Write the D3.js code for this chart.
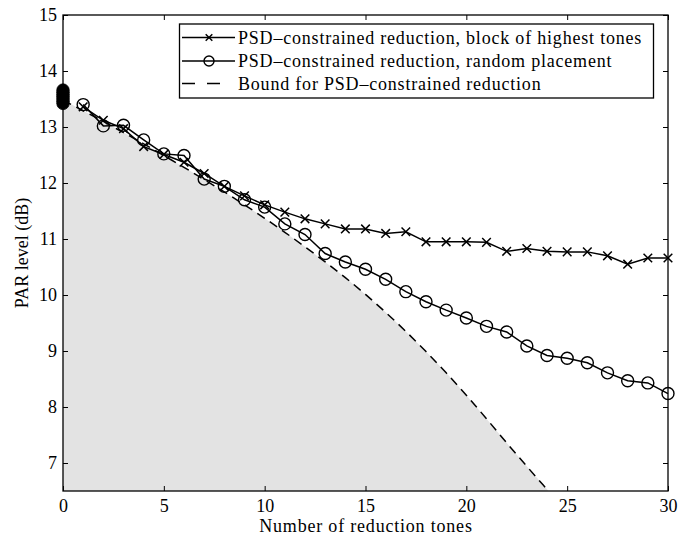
<!DOCTYPE html>
<html>
<head>
<meta charset="utf-8">
<script src="https://cdn.jsdelivr.net/npm/d3@7"></script>
<style>
  body { margin: 0; background: #fff; }
  svg { display: block; }
  text { font-family: "Liberation Serif", "DejaVu Serif", serif; fill: #000; }
</style>
</head>
<body>
<svg id="chart"></svg>
<script>
// number of reduction tones
var tones = [1,2,3,4,5,6,7,8,9,10,11,12,13,14,15,16,17,18,19,20,21,22,23,24,25,26,27,28,29,30];
// PSD-constrained reduction, block of highest tones (x markers)
var blockPar = [13.36,13.12,12.97,12.65,12.51,12.37,12.17,11.94,11.77,11.61,11.48,11.36,11.27,11.18,11.18,11.10,11.13,10.95,10.95,10.95,10.94,10.78,10.83,10.78,10.77,10.77,10.70,10.55,10.66,10.66];
// PSD-constrained reduction, random placement (o markers)
var randomPar = [13.40,13.02,13.03,12.77,12.52,12.49,12.07,11.94,11.70,11.57,11.27,11.08,10.74,10.59,10.46,10.28,10.06,9.88,9.73,9.59,9.44,9.34,9.09,8.92,8.87,8.79,8.61,8.47,8.43,8.24];
// bound curve, read at integer tones 0..25
var boundTones = [0,1,2,3,4,5,6,7,8,9,10,11,12,13,14,15,16,17,18,19,20,21,22,23,24,25];
var boundPar = [13.48,13.29,13.10,12.90,12.70,12.49,12.28,12.06,11.84,11.61,11.37,11.12,10.86,10.59,10.31,10.01,9.69,9.35,8.99,8.61,8.21,7.79,7.36,6.94,6.53,6.12];
// stacked markers at zero tones
var zeroPar = [13.42,13.46,13.50,13.54,13.58,13.62,13.66];

var xTicks = [0,5,10,15,20,25,30];
var yTicks = [7,8,9,10,11,12,13,14,15];
var legendLabels = [
  "PSD\u2013constrained reduction, block of highest tones",
  "PSD\u2013constrained reduction, random placement",
  "Bound for PSD\u2013constrained reduction"
];

var width = 678, height = 537;
var margin = {"top":15, "right":10, "bottom":46, "left":63};

var svg = d3.select("#chart")
  .attr("width", width)
  .attr("height", height);

var x = d3.scaleLinear()
  .domain([0, 30])
  .range([margin.left, width - margin.right]);
var y = d3.scaleLinear()
  .domain([6.5, 15])
  .range([height - margin.bottom, margin.top]);

svg.append("defs").append("clipPath")
  .attr("id", "plotClip")
  .append("rect")
  .attr("x", x(0))
  .attr("y", y(15))
  .attr("width", x(30) - x(0))
  .attr("height", y(6.5) - y(15));

var bound = boundTones.map(function(t, i){ return {"t": t, "v": boundPar[i]}; });

// shaded region below the bound
var area = d3.area()
  .x(function(d){ return x(d.t); })
  .y0(y(6.5))
  .y1(function(d){ return y(d.v); })
  .curve(d3.curveNatural);
svg.append("path")
  .datum(bound)
  .attr("clip-path", "url(#plotClip)")
  .attr("fill", "#e3e3e3")
  .attr("d", area);

var boundLine = d3.line()
  .x(function(d){ return x(d.t); })
  .y(function(d){ return y(d.v); })
  .curve(d3.curveNatural);
svg.append("path")
  .datum(bound)
  .attr("clip-path", "url(#plotClip)")
  .attr("fill", "none")
  .attr("stroke", "#000")
  .attr("stroke-width", 1.5)
  .attr("stroke-dasharray", "9,6")
  .attr("d", boundLine);

var line = d3.line()
  .x(function(d){ return x(d.t); })
  .y(function(d){ return y(d.v); });

var blockData = tones.map(function(t, i){ return {"t": t, "v": blockPar[i]}; });
var randomData = tones.map(function(t, i){ return {"t": t, "v": randomPar[i]}; });

svg.append("path")
  .datum(blockData)
  .attr("fill", "none")
  .attr("stroke", "#000")
  .attr("stroke-width", 1.5)
  .attr("d", line);
svg.append("path")
  .datum(randomData)
  .attr("fill", "none")
  .attr("stroke", "#000")
  .attr("stroke-width", 1.5)
  .attr("d", line);

function cross(g, cx, cy, s){
  g.append("path")
    .attr("d", "M" + (cx-s) + "," + (cy-s) + "L" + (cx+s) + "," + (cy+s) +
               "M" + (cx-s) + "," + (cy+s) + "L" + (cx+s) + "," + (cy-s))
    .attr("stroke", "#000")
    .attr("stroke-width", 1.5)
    .attr("fill", "none");
}

var crosses = svg.append("g");
blockData.forEach(function(d){ cross(crosses, x(d.t), y(d.v), 4.3); });

svg.append("g").selectAll("circle")
  .data(randomData)
  .enter()
  .append("circle")
  .attr("cx", function(d){ return x(d.t); })
  .attr("cy", function(d){ return y(d.v); })
  .attr("r", 6)
  .attr("fill", "none")
  .attr("stroke", "#000")
  .attr("stroke-width", 1.4);

// the pile of markers at zero tones
svg.append("g").selectAll("circle")
  .data(zeroPar)
  .enter()
  .append("circle")
  .attr("cx", x(0))
  .attr("cy", function(d){ return y(d); })
  .attr("r", 6.2)
  .attr("fill", "#000")
  .attr("stroke", "#000")
  .attr("stroke-width", 0.8);

// axes, ticks inside (MATLAB look)
var fs = "18px";
var gx = svg.append("g")
  .attr("transform", "translate(0," + y(6.5) + ")")
  .call(d3.axisBottom(x).tickValues(xTicks).tickSizeInner(-5).tickSizeOuter(0).tickPadding(8));
var gxTop = svg.append("g")
  .attr("transform", "translate(0," + y(15) + ")")
  .call(d3.axisTop(x).tickValues(xTicks).tickSizeInner(-5).tickSizeOuter(0).tickFormat(""));
var gy = svg.append("g")
  .attr("transform", "translate(" + x(0) + ",0)")
  .call(d3.axisLeft(y).tickValues(yTicks).tickSizeInner(-5).tickSizeOuter(0).tickPadding(6));
var gyRight = svg.append("g")
  .attr("transform", "translate(" + x(30) + ",0)")
  .call(d3.axisRight(y).tickValues(yTicks).tickSizeInner(-5).tickSizeOuter(0).tickFormat(""));

[gx, gxTop, gy, gyRight].forEach(function(g){
  g.select(".domain").remove();
  g.selectAll("line").attr("stroke", "#000").attr("stroke-width", 1);
  g.selectAll("text")
    .style("font-family", "Liberation Serif, serif")
    .style("font-size", fs)
    .attr("fill", "#000");
});

svg.append("rect")
  .attr("x", x(0))
  .attr("y", y(15))
  .attr("width", x(30) - x(0))
  .attr("height", y(6.5) - y(15))
  .attr("fill", "none")
  .attr("stroke", "#000")
  .attr("stroke-width", 1.3);

svg.append("text")
  .attr("x", 366)
  .attr("y", 532)
  .attr("text-anchor", "middle")
  .style("font-size", fs)
  .style("letter-spacing", "0.8px")
  .text("Number of reduction tones");

svg.append("text")
  .attr("transform", "translate(28," + ((y(6.5) + y(15)) / 2) + ") rotate(-90)")
  .attr("text-anchor", "middle")
  .style("font-size", fs)
  .text("PAR level (dB)");

// legend
var legend = svg.append("g");
legend.append("rect")
  .attr("x", 179.5)
  .attr("y", 24)
  .attr("width", 474)
  .attr("height", 74)
  .attr("fill", "#fff")
  .attr("stroke", "#000")
  .attr("stroke-width", 1.3);

var rowY = [37.5, 61, 83.5];
legendLabels.forEach(function(label, i){
  var ly = rowY[i];
  var l = legend.append("line")
    .attr("x1", 182).attr("x2", 235)
    .attr("y1", ly).attr("y2", ly)
    .attr("stroke", "#000")
    .attr("stroke-width", 1.5);
  if(i == 0) cross(legend, 209, ly, 3.3);
  if(i == 1){
    legend.append("circle")
      .attr("cx", 209).attr("cy", ly).attr("r", 5)
      .attr("fill", "none").attr("stroke", "#000").attr("stroke-width", 1.4);
  }
  if(i == 2) l.attr("x2", 221).attr("stroke-dasharray", "13,12");
  legend.append("text")
    .attr("x", 238)
    .attr("y", ly + 6)
    .style("font-size", fs)
    .style("letter-spacing", "0.8px")
    .text(label);
});
</script>
</body>
</html>
